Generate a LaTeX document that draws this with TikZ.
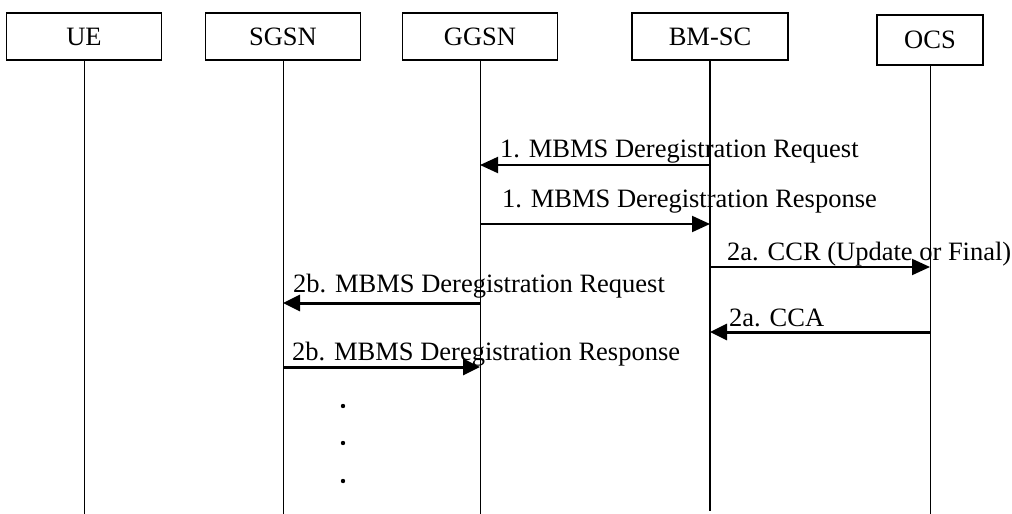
\documentclass[tikz,border=0pt]{standalone}
\usepackage{fontspec}
\setmainfont{Liberation Serif}
\usetikzlibrary{arrows.meta}
\begin{document}
\begin{tikzpicture}[x=1pt,y=-1pt,
  ent/.style={draw,line width=1.4pt,minimum height=47pt,inner sep=0pt,font=\fontsize{26.5}{30}\selectfont},
  life/.style={line width=1pt},
  msgthin/.style={line width=2pt,-{Triangle[length=18pt,width=16pt]}},
  msgthick/.style={line width=3pt,-{Triangle[length=17pt,width=16pt]}},
  lbl/.style={anchor=base west,inner sep=0pt,font=\fontsize{26.5}{30}\selectfont}]
\useasboundingbox (0,0) rectangle (1012,514);
% entities
\node[ent,minimum width=155pt] (ue)   at (84,36.5)  {UE};
\node[ent,minimum width=155pt] (sgsn) at (283,36.5) {SGSN};
\node[ent,minimum width=155pt] (ggsn) at (480,36.5) {GGSN};
\node[ent,minimum width=156pt] (bmsc) at (710,36.5) {BM-SC};
\node[ent,minimum width=106pt,minimum height=50pt] (ocs) at (930,40) {OCS};
% lifelines
\coordinate (bot) at (0,514);
\coordinate (botb) at (0,511);
\draw[life] (ue.south)   -- (ue.south |- bot);
\draw[life] (sgsn.south) -- (sgsn.south |- bot);
\draw[life] (ggsn.south) -- (ggsn.south |- bot);
\draw[line width=1.5pt] (bmsc.south) -- (bmsc.south |- botb);
\draw[life] (ocs.south)  -- (ocs.south |- bot);
% message rows
\coordinate (r1) at (0,165);
\coordinate (r2) at (0,224);
\coordinate (r3) at (0,267);
\coordinate (r4) at (0,303);
\coordinate (r5) at (0,332);
\coordinate (r6) at (0,367);
\draw[msgthin]  (bmsc |- r1) -- (ggsn |- r1);
\draw[msgthin]  (ggsn |- r2) -- (bmsc |- r2);
\draw[msgthin]  (bmsc |- r3) -- (ocs |- r3);
\draw[msgthick] (ggsn |- r4) -- (sgsn |- r4);
\draw[msgthick] (ocs |- r5)  -- (bmsc |- r5);
\draw[msgthick] (sgsn |- r6) -- (ggsn |- r6);
% labels
\node[lbl] (l1) at (500,157) {1. MBMS Deregistration Request};
\node[lbl] (l2) at (502,207) {1. MBMS Deregistration Response};
\node[lbl] (l3) at (727,260) {2a. CCR (Update or Final)};
\node[lbl] (l4) at (293,292) {2b. MBMS Deregistration Request};
\node[lbl] (l5) at (729,326) {2a. CCA};
\node[lbl] (l6) at (292,360) {2b. MBMS Deregistration Response};
% continuation dots
\fill (343,406) circle (2.2pt);
\fill (343,443) circle (2.2pt);
\fill (343,481) circle (2.2pt);
\end{tikzpicture}
\end{document}
